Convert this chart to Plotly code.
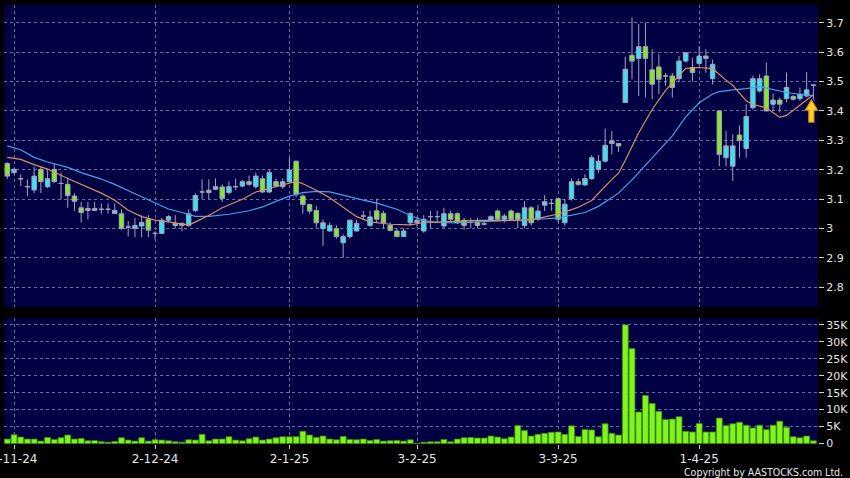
import plotly.graph_objects as go
from plotly.subplots import make_subplots

# ---------------- data ----------------
# trading-day index 0 = 31-10-24 ... 120 = 29-4-25
opens = [3.221, 3.190, 3.169, 3.142, 3.131, 3.201, 3.142, 3.201, 3.153, 3.150,
         3.110, 3.070, 3.068, 3.068, 3.065, 3.065, 3.051, 3.050, 3.005, 3.000,
         3.008, 3.031, 2.983, 2.983, 3.028, 3.017, 3.017, 3.010, 3.061, 3.124,
         3.130, 3.133, 3.141, 3.122, 3.142, 3.144, 3.159, 3.142, 3.169, 3.124,
         3.159, 3.142, 3.159, 3.229, 3.110, 3.081, 3.061, 2.999, 2.991, 2.999,
         2.951, 2.972, 2.991, 3.042, 3.010, 3.060, 3.051, 3.010, 2.991, 2.972,
         3.019, 3.028, 2.991, 3.040, 3.040, 3.008, 3.050, 3.050, 3.028, 3.020,
         3.021, 3.015, 3.028, 3.059, 3.031, 3.059, 3.051, 3.010, 3.070, 3.031,
         3.079, 3.085, 3.101, 3.019, 3.101, 3.159, 3.148, 3.169, 3.201, 3.229,
         3.298, 3.289, 3.429, 3.590, 3.579, 3.619, 3.540, 3.550, 3.519, 3.519,
         3.510, 3.570, 3.548, 3.562, 3.579, 3.510, 3.400, 3.241, 3.212, 3.318,
         3.272, 3.411, 3.468, 3.519, 3.423, 3.437, 3.442, 3.449, 3.442, 3.451,
         3.488]
highs = [3.225, 3.205, 3.184, 3.167, 3.210, 3.210, 3.200, 3.220, 3.190, 3.173,
         3.120, 3.090, 3.090, 3.090, 3.085, 3.085, 3.085, 3.065, 3.025, 3.035,
         3.045, 3.045, 2.990, 3.035, 3.045, 3.045, 3.020, 3.064, 3.120, 3.167,
         3.167, 3.170, 3.150, 3.160, 3.170, 3.165, 3.180, 3.190, 3.180, 3.200,
         3.170, 3.170, 3.241, 3.229, 3.116, 3.081, 3.076, 3.031, 3.020, 3.010,
         2.980, 3.030, 3.030, 3.060, 3.060, 3.101, 3.060, 3.020, 3.000, 3.000,
         3.055, 3.040, 3.045, 3.060, 3.060, 3.070, 3.060, 3.055, 3.035, 3.035,
         3.035, 3.025, 3.045, 3.065, 3.050, 3.065, 3.055, 3.093, 3.075, 3.080,
         3.113, 3.100, 3.101, 3.100, 3.170, 3.170, 3.185, 3.250, 3.250, 3.340,
         3.332, 3.290, 3.585, 3.719, 3.696, 3.701, 3.610, 3.593, 3.530, 3.530,
         3.587, 3.600, 3.580, 3.621, 3.610, 3.575, 3.400, 3.332, 3.320, 3.351,
         3.423, 3.520, 3.525, 3.565, 3.460, 3.446, 3.531, 3.455, 3.480, 3.533,
         3.488]
lows = [3.168, 3.185, 3.144, 3.110, 3.120, 3.120, 3.137, 3.155, 3.100, 3.070,
        3.060, 3.020, 3.030, 3.060, 3.050, 3.050, 3.050, 2.995, 2.972, 2.970,
        2.970, 2.970, 2.962, 2.980, 3.020, 3.000, 2.990, 3.005, 3.055, 3.100,
        3.100, 3.130, 3.090, 3.115, 3.130, 3.140, 3.145, 3.135, 3.120, 3.120,
        3.140, 3.135, 3.155, 3.106, 3.050, 3.050, 3.002, 2.940, 2.990, 2.965,
        2.900, 2.965, 2.990, 3.030, 3.005, 3.019, 3.000, 2.990, 2.970, 2.970,
        3.010, 3.005, 2.985, 3.000, 3.020, 3.000, 3.025, 3.015, 2.995, 3.000,
        3.000, 3.010, 3.025, 3.025, 3.020, 3.025, 3.000, 3.000, 3.010, 3.025,
        3.059, 3.060, 3.020, 3.010, 3.095, 3.145, 3.145, 3.165, 3.190, 3.225,
        3.252, 3.260, 3.429, 3.508, 3.451, 3.446, 3.440, 3.457, 3.485, 3.445,
        3.497, 3.565, 3.500, 3.555, 3.530, 3.490, 3.212, 3.212, 3.161, 3.241,
        3.241, 3.405, 3.463, 3.400, 3.400, 3.395, 3.429, 3.435, 3.434, 3.446,
        3.437]
closes = [3.178, 3.201, 3.169, 3.142, 3.178, 3.159, 3.169, 3.159, 3.153, 3.112,
          3.092, 3.054, 3.061, 3.061, 3.065, 3.065, 3.061, 3.000, 3.005, 3.010,
          3.020, 2.994, 2.983, 3.028, 3.040, 3.010, 3.010, 3.050, 3.112, 3.124,
          3.122, 3.142, 3.102, 3.142, 3.142, 3.159, 3.150, 3.178, 3.124, 3.190,
          3.144, 3.159, 3.199, 3.116, 3.081, 3.059, 3.019, 3.019, 3.010, 2.972,
          2.972, 3.028, 3.017, 3.042, 3.039, 3.031, 3.019, 2.993, 2.972, 2.991,
          3.050, 3.020, 3.031, 3.040, 3.040, 3.050, 3.031, 3.020, 3.010, 3.020,
          3.010, 3.015, 3.040, 3.031, 3.042, 3.031, 3.031, 3.070, 3.019, 3.059,
          3.091, 3.085, 3.031, 3.082, 3.159, 3.150, 3.170, 3.241, 3.229, 3.283,
          3.289, 3.281, 3.542, 3.570, 3.619, 3.579, 3.491, 3.508, 3.519, 3.480,
          3.570, 3.598, 3.531, 3.587, 3.587, 3.559, 3.252, 3.281, 3.281, 3.300,
          3.381, 3.510, 3.510, 3.400, 3.437, 3.423, 3.480, 3.440, 3.457, 3.472,
          3.488]
volumes = [1300, 2600, 1900, 1300, 1300, 700, 1800, 1200, 1700, 2500,
           1300, 1500, 800, 900, 500, 400, 600, 1700, 1000, 700,
           1700, 700, 1100, 1000, 800, 500, 400, 1100, 1000, 2700,
           800, 1300, 1300, 2000, 1000, 800, 1400, 1900, 1000, 1300,
           1700, 2000, 2000, 2000, 3600, 2500, 1800, 2200, 1300, 1100,
           2100, 1200, 1100, 1300, 900, 1200, 700, 800, 900, 700,
           1100, 50, 400, 500, 500, 1200, 500, 1300, 1700, 1800,
           1600, 1600, 2200, 1900, 1400, 1900, 5300, 3800, 2200, 2700,
           3000, 3300, 3400, 2700, 5200, 2100, 4100, 4000, 2000, 5800,
           3000, 2500, 35000, 28000, 9300, 14200, 11800, 9500, 7100, 7200,
           7900, 3600, 3400, 5900, 3400, 3400, 7500, 5300, 5800, 6300,
           5400, 4600, 5400, 4100, 5400, 6600, 4800, 2000, 1700, 2200,
           800]

# moving-average lines, read at sample days
ma_short_days = [0, 2, 4, 6, 9, 11, 14, 16, 18, 20, 22, 24, 26, 27, 28, 30, 32, 35,
                 37, 40, 42, 43, 44, 46, 48, 50, 52, 54, 57, 60, 62, 64, 67, 70, 74,
                 77, 79, 81, 82, 84, 85, 87, 88, 90, 91, 92, 94, 96, 98, 100, 101,
                 103, 105, 107, 108, 110, 111, 113, 115, 116, 118, 120]
ma_short_vals = [3.242, 3.235, 3.217, 3.202, 3.170, 3.150, 3.120, 3.096, 3.062, 3.040,
                 3.028, 3.022, 3.014, 3.011, 3.022, 3.044, 3.070, 3.099, 3.124, 3.143,
                 3.156, 3.160, 3.152, 3.130, 3.104, 3.072, 3.040, 3.022, 3.014, 3.012,
                 3.020, 3.021, 3.025, 3.027, 3.027, 3.028, 3.034, 3.045, 3.049, 3.064,
                 3.072, 3.095, 3.120, 3.167, 3.188, 3.232, 3.326, 3.405, 3.470, 3.519,
                 3.545, 3.548, 3.544, 3.505, 3.487, 3.435, 3.422, 3.411, 3.378, 3.385,
                 3.420, 3.455]
ma_long_days = [0, 2, 4, 6, 9, 11, 14, 16, 19, 21, 24, 26, 28, 30, 33, 36, 38, 40,
                42, 44, 46, 48, 50, 53, 55, 58, 60, 62, 64, 67, 70, 74, 77, 79, 82,
                84, 86, 88, 91, 93, 95, 97, 99, 101, 103, 105, 106, 108, 110, 112,
                114, 116, 118, 120]
ma_long_vals = [3.281, 3.268, 3.242, 3.226, 3.208, 3.190, 3.168, 3.150, 3.118, 3.097,
                3.066, 3.054, 3.041, 3.041, 3.048, 3.060, 3.073, 3.092, 3.110, 3.122,
                3.126, 3.124, 3.112, 3.096, 3.086, 3.065, 3.044, 3.027, 3.020, 3.019,
                3.022, 3.025, 3.028, 3.031, 3.036, 3.044, 3.054, 3.075, 3.120, 3.165,
                3.215, 3.265, 3.315, 3.380, 3.428, 3.458, 3.466, 3.472, 3.476, 3.483,
                3.474, 3.463, 3.457, 3.452]

x_tick_days = [1, 22, 42, 61, 82, 103]
x_tick_text = ["1-11-24", "2-12-24", "2-1-25", "3-2-25", "3-3-25", "1-4-25"]
price_ticks = [2.8, 2.9, 3.0, 3.1, 3.2, 3.3, 3.4, 3.5, 3.6, 3.7]
price_tick_text = ["2.8", "2.9", "3", "3.1", "3.2", "3.3", "3.4", "3.5", "3.6", "3.7"]
vol_ticks = [0, 5000, 10000, 15000, 20000, 25000, 30000, 35000]
vol_tick_text = ["0", "5K", "10K", "15K", "20K", "25K", "30K", "35K"]

days = list(range(len(closes)))

# ---------------- styling ----------------
NAVY = "#000042"
GRID = "#6c6ca0"
TXT = "#e6e6e6"
CYAN = "#35e4f2"
GREEN = "#84ea22"
WICK = "#a4a4c0"
FONT = "DejaVu Sans"

fig = make_subplots(rows=2, cols=1, shared_xaxes=True, vertical_spacing=0.02)

fig.add_trace(go.Candlestick(
    x=days, open=opens, high=highs, low=lows, close=closes,
    increasing=dict(fillcolor=CYAN, line=dict(color=WICK, width=1)),
    decreasing=dict(fillcolor=GREEN, line=dict(color=WICK, width=1)),
    whiskerwidth=0, showlegend=False, hoverinfo="skip"), row=1, col=1)

fig.add_trace(go.Scatter(x=ma_long_days, y=ma_long_vals, mode="lines",
                         line=dict(color="#3fa6e6", width=1.2),
                         showlegend=False, hoverinfo="skip"), row=1, col=1)
fig.add_trace(go.Scatter(x=ma_short_days, y=ma_short_vals, mode="lines",
                         line=dict(color="#dc8e68", width=1.2),
                         showlegend=False, hoverinfo="skip"), row=1, col=1)

fig.add_trace(go.Bar(x=days, y=volumes, marker=dict(color="#7ff51c",
                     line=dict(color="#3c8a10", width=0.8)),
                     showlegend=False, hoverinfo="skip"), row=2, col=1)

# yellow block arrow under the latest candle (pixel-sized, anchored to its low)
fig.add_shape(type="path", xref="x", yref="y",
              xsizemode="pixel", ysizemode="pixel",
              xanchor=days[-1], yanchor=lows[-1],
              path="M -2,0 L 4,-10 L 0.5,-10 L 0.5,-22 L -4.5,-22 L -4.5,-10 L -8,-10 Z",
              fillcolor="#ffd428", line=dict(color="#e39a00", width=1.2))

xcommon = dict(range=[-0.49, 120.69], tickvals=x_tick_days, ticktext=x_tick_text,
               showgrid=True, gridcolor=GRID, griddash="3px,3px", gridwidth=1,
               zeroline=False, showline=False, automargin=False,
               rangeslider=dict(visible=False))

fig.update_layout(
    width=850, height=478,
    margin=dict(l=4, r=32, t=5, b=34),
    paper_bgcolor="#000000", plot_bgcolor=NAVY,
    font=dict(family=FONT, size=12, color=TXT),
    boxgap=0.05, bargap=0.12,
    xaxis=dict(**xcommon, showticklabels=False, ticks=""),
    xaxis2=dict(**xcommon, showticklabels=True, ticks="outside", ticklen=4,
                ticklabeloverflow="allow",
                tickcolor="#d0d0d0", tickfont=dict(family=FONT, size=12, color=TXT)),
    yaxis=dict(domain=[0.312, 1.0], range=[2.732, 3.761], side="right",
               tickvals=price_ticks, ticktext=price_tick_text,
               showgrid=True, gridcolor=GRID, griddash="3px,3px", gridwidth=1,
               zeroline=False, showline=False, automargin=False,
               ticks="outside", ticklen=5, tickcolor="#d0d0d0",
               tickfont=dict(family=FONT, size=11, color=TXT)),
    yaxis2=dict(domain=[0.0, 0.286], range=[-150, 36900], side="right",
                tickvals=vol_ticks, ticktext=vol_tick_text,
                showgrid=True, gridcolor=GRID, griddash="3px,3px", gridwidth=1,
                zeroline=False, showline=False, automargin=False,
                ticks="outside", ticklen=5, tickcolor="#d0d0d0",
                tickfont=dict(family=FONT, size=11, color=TXT)),
)

fig.add_annotation(text="Copyright by AASTOCKS.com Ltd.", xref="paper", yref="paper",
                   x=1.0, y=0.0, xanchor="right", yanchor="top", xshift=27, yshift=-20,
                   showarrow=False,
                   font=dict(family="DejaVu Sans Condensed", size=10.5, color=TXT))

fig.write_html("out.html", config={"displayModeBar": False},
               post_script="document.body.style.margin='0';")
